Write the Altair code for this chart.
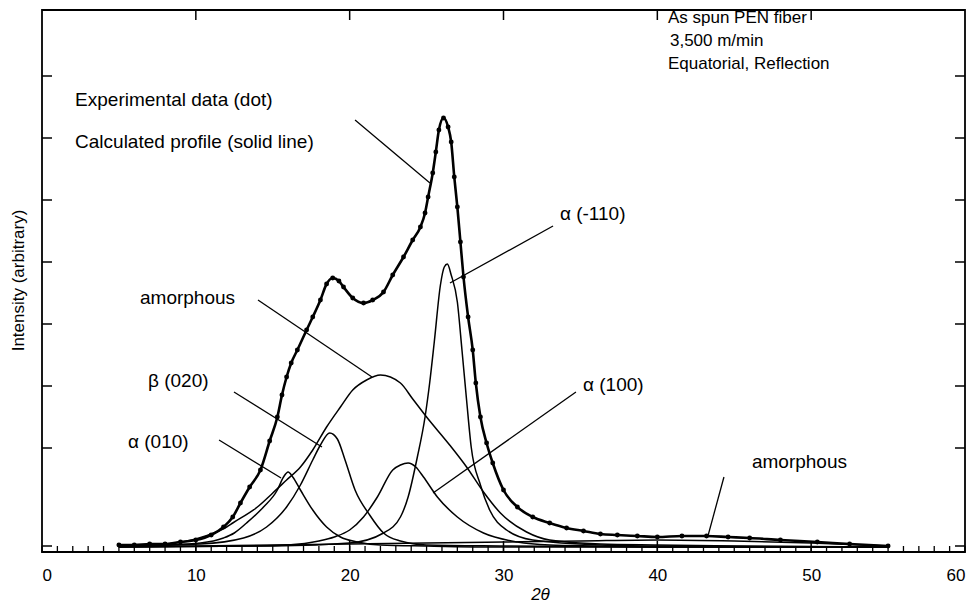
import altair as alt
import pandas as pd

# ---------------- data ----------------
# measured profile (dots + calculated solid line)
main_x = [5.0, 6.0, 7.0, 8.0, 9.0, 10.0, 11.0, 11.8, 12.4, 12.9, 13.5, 14.2, 14.8, 15.3,
          15.6, 15.9, 16.2, 16.6, 17.2, 17.6, 18.1, 18.5, 18.9, 19.3, 19.6, 20.2, 20.9, 21.5,
          22.2, 22.8, 23.5, 24.1, 24.6, 24.9, 25.1, 25.4, 25.6, 25.8, 26.1, 26.4, 26.6,
          26.8, 27.0, 27.2, 27.4, 27.7, 28.0, 28.2, 28.5, 28.9, 29.3, 30.0, 30.9, 31.9,
          33.0, 34.1, 35.2, 36.3, 37.4, 38.7, 40.0, 41.6, 43.2, 44.6, 46.0, 48.0, 50.4,
          52.5, 55.0]
main_y = [0.02, 0.02, 0.03, 0.03, 0.05, 0.07, 0.12, 0.20, 0.30, 0.44, 0.60, 0.77, 1.06, 1.30,
          1.52, 1.70, 1.84, 1.97, 2.17, 2.30, 2.47, 2.63, 2.69, 2.66, 2.60, 2.49, 2.44, 2.47,
          2.55, 2.72, 2.90, 3.07, 3.20, 3.34, 3.50, 3.74, 3.95, 4.17, 4.29, 4.20, 4.05,
          3.70, 3.40, 3.05, 2.70, 2.30, 1.97, 1.64, 1.30, 1.04, 0.84, 0.57, 0.40, 0.30,
          0.24, 0.19, 0.16, 0.13, 0.12, 0.11, 0.10, 0.11, 0.11, 0.10, 0.09, 0.07, 0.05,
          0.03, 0.01]

# fitted components
a010_x = [5.0, 8.0, 10.3, 11.8, 12.5, 13.3, 14.4, 15.3, 15.7, 16.0, 16.3, 16.8, 17.6, 18.5,
          19.4, 20.5, 22.0, 25.0, 30.0, 40.0, 55.0]
a010_y = [0.01, 0.02, 0.04, 0.09, 0.14, 0.24, 0.40, 0.57, 0.70, 0.75, 0.70, 0.57, 0.37, 0.20,
          0.10, 0.05, 0.02, 0.01, 0.0, 0.0, 0.0]

b020_x = [5.0, 10.3, 13.1, 14.6, 15.9, 16.8, 17.6, 18.1, 18.7, 19.2, 19.7, 20.35, 21.3, 22.2,
          23.3, 25.0, 30.0, 40.0, 55.0]
b020_y = [0.01, 0.03, 0.09, 0.20, 0.40, 0.62, 0.87, 1.02, 1.14, 1.08, 0.87, 0.57, 0.32, 0.14,
          0.06, 0.02, 0.01, 0.0, 0.0]

amor_x = [5.0, 8.0, 10.0, 12.0, 12.4, 14.0, 15.0, 15.9, 16.8, 17.6, 18.5, 19.4, 20.2, 21.1,
          22.0, 23.3, 24.1, 25.0, 26.5, 27.6, 28.7, 29.8, 31.5, 33.0, 36.3, 40.0, 45.0, 55.0]
amor_y = [0.01, 0.03, 0.08, 0.20, 0.24, 0.40, 0.54, 0.67, 0.80, 0.97, 1.20, 1.40, 1.57, 1.67,
          1.72, 1.64, 1.48, 1.30, 1.02, 0.80, 0.55, 0.34, 0.15, 0.07, 0.03, 0.02, 0.01, 0.0]

a100_x = [5.0, 14.0, 16.0, 18.0, 19.0, 20.0, 20.9, 21.8, 22.8, 23.3, 23.8, 24.3, 24.8, 25.7,
          27.0, 28.7, 30.9, 33.0, 36.0, 40.0, 55.0]
a100_y = [0.0, 0.01, 0.02, 0.06, 0.10, 0.17, 0.30, 0.50, 0.77, 0.82, 0.84, 0.80, 0.70, 0.50,
          0.30, 0.14, 0.05, 0.02, 0.01, 0.0, 0.0]

a110_x = [5.0, 15.0, 20.0, 22.2, 23.3, 23.8, 24.4, 24.9, 25.2, 25.5, 25.9, 26.15, 26.35, 26.6,
          27.0, 27.3, 27.6, 27.9, 28.5, 29.1, 30.2, 31.9, 36.3, 40.0, 55.0]
a110_y = [0.0, 0.01, 0.04, 0.14, 0.30, 0.50, 0.90, 1.30, 1.64, 2.05, 2.62, 2.80, 2.83, 2.72,
          2.45, 1.97, 1.47, 1.00, 0.62, 0.37, 0.17, 0.07, 0.02, 0.01, 0.0]

amor2_x = [5.0, 10.0, 15.0, 20.0, 25.0, 30.0, 35.0, 40.0, 45.0, 50.0, 55.0]
amor2_y = [0.0, 0.01, 0.02, 0.03, 0.04, 0.05, 0.06, 0.07, 0.06, 0.04, 0.01]

# sample description (top right) and its anchor (2theta, intensity)
info_text = ["As spun PEN fiber", "3,500 m/min", "Equatorial, Reflection"]
info_x = [40.69, 40.82, 40.69]
info_y = [5.29, 5.06, 4.83]

# annotation texts and their anchor (2theta, intensity)
ann_text = ["Experimental data (dot)", "Calculated profile (solid line)",
            "α (-110)", "amorphous", "β (020)", "α (100)", "α (010)", "amorphous"]
ann_x = [2.15, 2.15, 33.67, 6.37, 6.89, 35.17, 5.59, 46.15]
ann_y = [4.47, 4.05, 3.33, 2.49, 1.66, 1.62, 1.05, 0.85]

# leader lines (from label to curve)
lead_x1 = [20.35, 33.22, 14.04, 12.48, 11.51, 34.71, 44.33]
lead_y1 = [4.27, 3.21, 2.47, 1.55, 1.07, 1.55, 0.70]
lead_x2 = [25.22, 26.52, 21.45, 18.20, 15.54, 25.42, 43.29]
lead_y2 = [3.64, 2.64, 1.70, 1.00, 0.69, 0.54, 0.11]

x_labels = [0, 10, 20, 30, 40, 50, 60]
x_minor = list(range(0, 61))
x_major_inner = [10, 20, 30, 40, 50]
y_ticks = [0.01, 0.99, 1.61, 2.23, 2.85, 3.47, 4.09, 4.71]

# ---------------- tables ----------------
main_df = pd.DataFrame({"x": main_x, "y": main_y})
comp = []
for name, xs_, ys_ in [("a010", a010_x, a010_y), ("b020", b020_x, b020_y),
                       ("amor", amor_x, amor_y), ("a100", a100_x, a100_y),
                       ("a110", a110_x, a110_y), ("amor2", amor2_x, amor2_y)]:
    for xv, yv in zip(xs_, ys_):
        comp.append({"name": name, "x": xv, "y": yv})
comp_df = pd.DataFrame(comp)
ann_df = pd.DataFrame({"t": ann_text, "x": ann_x, "y": ann_y})
info_df = pd.DataFrame({"t": info_text, "x": info_x, "y": info_y})
lead_df = pd.DataFrame({"x": lead_x1, "y": lead_y1, "x2": lead_x2, "y2": lead_y2})

W, H = 923, 542
FONT = "Liberation Sans"

xs = alt.Scale(domain=[0, 60], nice=False, zero=False)
ys = alt.Scale(domain=[-0.05, 5.37], nice=False, zero=False)

xenc = alt.X("x:Q", scale=xs,
             axis=alt.Axis(values=x_labels, ticks=False, domain=False, grid=False,
                           labelFontSize=17, labelPadding=15, labelFont=FONT,
                           labelColor="black", title="2θ", titleFont=FONT,
                           titleFontSize=17, titleFontStyle="italic",
                           titleFontWeight="normal", titleColor="black",
                           titleX=498, titleY=47, titleBaseline="alphabetic",
                           titleAlign="center"))
yenc = alt.Y("y:Q", scale=ys,
             axis=alt.Axis(labels=False, ticks=False, domain=False, grid=False,
                           title="Intensity (arbitrary)", titleFont=FONT,
                           titleFontSize=17, titleFontWeight="normal",
                           titleColor="black", titleX=-24, titleY=270,
                           titleAlign="center", titleBaseline="middle", titleAngle=270))

comp_lines = alt.Chart(comp_df).mark_line(color="black", strokeWidth=1.5,
                                          interpolate="monotone").encode(
    x=xenc, y=yenc, detail="name:N")

main_line = alt.Chart(main_df).mark_line(color="black", strokeWidth=2.6,
                                         interpolate="monotone").encode(
    x=alt.X("x:Q", scale=xs), y=alt.Y("y:Q", scale=ys))
main_pts = alt.Chart(main_df).mark_circle(color="black", size=24, opacity=1).encode(
    x=alt.X("x:Q", scale=xs), y=alt.Y("y:Q", scale=ys))

leaders = alt.Chart(lead_df).mark_rule(color="black", strokeWidth=1.3).encode(
    x=alt.X("x:Q", scale=xs), y=alt.Y("y:Q", scale=ys), x2="x2:Q", y2="y2:Q")

texts = alt.Chart(ann_df).mark_text(align="left", baseline="middle", font=FONT,
                                    fontSize=19, color="black").encode(
    x=alt.X("x:Q", scale=xs), y=alt.Y("y:Q", scale=ys), text="t:N")
info = alt.Chart(info_df).mark_text(align="left", baseline="middle", font=FONT,
                                    fontSize=17, color="black").encode(
    x=alt.X("x:Q", scale=xs), y=alt.Y("y:Q", scale=ys), text="t:N")

minor_df = pd.DataFrame({"x": x_minor})
major_df = pd.DataFrame({"x": x_major_inner})
ytick_df = pd.DataFrame({"y": y_ticks})

bot_minor = alt.Chart(minor_df).mark_rule(color="black", strokeWidth=1.3).encode(
    x=alt.X("x:Q", scale=xs), y=alt.value(H), y2=alt.value(H - 6))
bot_major = alt.Chart(major_df).mark_rule(color="black", strokeWidth=1.5).encode(
    x=alt.X("x:Q", scale=xs), y=alt.value(H), y2=alt.value(H - 11))
top_major = alt.Chart(major_df).mark_rule(color="black", strokeWidth=1.5).encode(
    x=alt.X("x:Q", scale=xs), y=alt.value(0), y2=alt.value(10))
left_t = alt.Chart(ytick_df).mark_rule(color="black", strokeWidth=1.5).encode(
    y=alt.Y("y:Q", scale=ys), x=alt.value(0), x2=alt.value(10))
right_t = alt.Chart(ytick_df).mark_rule(color="black", strokeWidth=1.5).encode(
    y=alt.Y("y:Q", scale=ys), x=alt.value(W), x2=alt.value(W - 10))

chart = alt.layer(comp_lines, main_line, main_pts, leaders, texts, info,
                  bot_minor, bot_major, top_major, left_t, right_t).properties(
    width=W, height=H,
    autosize=alt.AutoSizeParams(type="none"),
    padding={"left": 42, "top": 10, "right": 14, "bottom": 52},
    background="white",
).configure_view(stroke="black", strokeWidth=1.8)

chart.save("out.html", embed_options={"renderer": "svg", "actions": False})
